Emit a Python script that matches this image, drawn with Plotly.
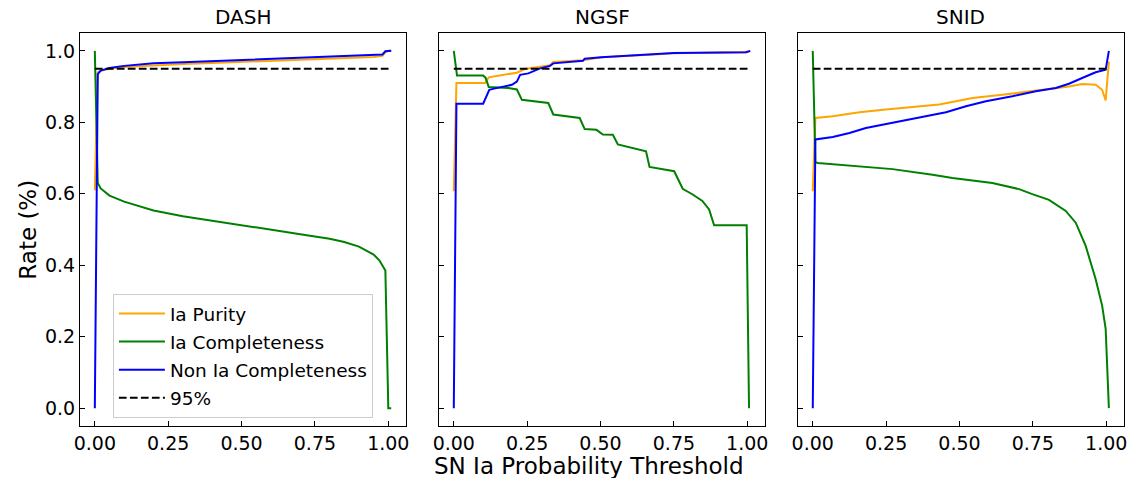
import plotly.graph_objects as go

# ---------------- data ----------------
panels = ["DASH", "NGSF", "SNID"]

# DASH
dash_pur_x = [0.0, 0.01, 0.02, 0.05, 0.1, 0.2, 0.3, 0.4, 0.5, 0.6, 0.7, 0.8, 0.9, 0.95, 0.98, 0.99, 1.0, 1.01]
dash_pur_y = [0.61, 0.94, 0.944, 0.95, 0.955, 0.96, 0.963, 0.966, 0.969, 0.972, 0.975, 0.978, 0.981, 0.983, 0.986, 0.996, 1.0, 1.0]
dash_com_x = [0.0, 0.01, 0.02, 0.05, 0.1, 0.15, 0.2, 0.3, 0.4, 0.5, 0.6, 0.7, 0.8, 0.85, 0.9, 0.95, 0.97, 0.98, 0.99, 1.0, 1.01]
dash_com_y = [1.0, 0.63, 0.615, 0.595, 0.578, 0.565, 0.553, 0.537, 0.525, 0.513, 0.499, 0.487, 0.474, 0.465, 0.452, 0.43, 0.413, 0.40, 0.385, 0.0, 0.0]
dash_non_x = [0.0, 0.01, 0.02, 0.05, 0.1, 0.2, 0.3, 0.4, 0.5, 0.6, 0.7, 0.8, 0.9, 0.95, 0.98, 0.99, 1.0, 1.01]
dash_non_y = [0.0, 0.935, 0.945, 0.952, 0.958, 0.965, 0.968, 0.971, 0.974, 0.977, 0.98, 0.983, 0.986, 0.988, 0.99, 0.999, 1.0, 1.0]

# NGSF
ngsf_pur_x = [0.0, 0.009, 0.107, 0.119, 0.215, 0.243, 0.328, 0.339, 0.44, 0.503, 0.667, 0.75, 1.0, 1.01]
ngsf_pur_y = [0.607, 0.91, 0.91, 0.926, 0.939, 0.949, 0.96, 0.969, 0.974, 0.982, 0.989, 0.993, 0.996, 1.0]
ngsf_com_x = [0.0, 0.011, 0.10, 0.108, 0.119, 0.186, 0.215, 0.232, 0.322, 0.339, 0.429, 0.446, 0.486, 0.508,
              0.542, 0.559, 0.655, 0.667, 0.751, 0.78, 0.814, 0.847, 0.87, 0.887, 0.998, 1.006]
ngsf_com_y = [1.0, 0.931, 0.931, 0.925, 0.899, 0.896, 0.892, 0.863, 0.854, 0.822, 0.812, 0.781, 0.779, 0.766,
              0.765, 0.738, 0.719, 0.675, 0.663, 0.614, 0.598, 0.58, 0.556, 0.512, 0.512, 0.0]
ngsf_non_x = [0.0, 0.009, 0.10, 0.121, 0.141, 0.198, 0.215, 0.226, 0.254, 0.294, 0.328, 0.339, 0.44, 0.446,
              0.503, 0.667, 0.75, 0.995, 1.01]
ngsf_non_y = [0.0, 0.852, 0.852, 0.891, 0.895, 0.905, 0.914, 0.933, 0.937, 0.951, 0.958, 0.965, 0.972, 0.978,
              0.982, 0.989, 0.994, 0.996, 1.0]

# SNID
snid_pur_x = [0.0, 0.009, 0.068, 0.159, 0.249, 0.329, 0.431, 0.488, 0.544, 0.646, 0.726, 0.816, 0.873, 0.918,
              0.964, 0.986, 0.998, 1.009]
snid_pur_y = [0.607, 0.812, 0.817, 0.828, 0.836, 0.842, 0.85, 0.859, 0.868, 0.877, 0.885, 0.893, 0.9, 0.907,
              0.905, 0.891, 0.861, 0.97]
snid_com_x = [0.0, 0.009, 0.017, 0.159, 0.272, 0.408, 0.476, 0.612, 0.703, 0.748, 0.805, 0.862, 0.896, 0.93,
              0.964, 0.986, 0.998, 1.009]
snid_com_y = [1.0, 0.688, 0.686, 0.677, 0.669, 0.653, 0.644, 0.63, 0.613, 0.599, 0.583, 0.552, 0.519, 0.454,
              0.361, 0.287, 0.222, 0.0]
snid_non_x = [0.0, 0.009, 0.068, 0.125, 0.181, 0.249, 0.317, 0.385, 0.454, 0.522, 0.59, 0.68, 0.76, 0.828,
              0.873, 0.918, 0.964, 0.998, 1.009]
snid_non_y = [0.0, 0.752, 0.759, 0.77, 0.784, 0.795, 0.807, 0.817, 0.828, 0.845, 0.859, 0.873, 0.887, 0.896,
              0.908, 0.924, 0.94, 0.947, 1.0]

ref_x = [0.0, 1.01]
ref_y = [0.95, 0.95]

series_names = ["Ia Purity", "Ia Completeness", "Non Ia Completeness", "95%"]
series_colors = ["#FFA500", "#008000", "#0000FF", "#000000"]

x_ticks = [0.0, 0.25, 0.5, 0.75, 1.0]
y_ticks = [0.0, 0.2, 0.4, 0.6, 0.8, 1.0]

data = {
    "DASH": [(dash_pur_x, dash_pur_y), (dash_com_x, dash_com_y), (dash_non_x, dash_non_y)],
    "NGSF": [(ngsf_pur_x, ngsf_pur_y), (ngsf_com_x, ngsf_com_y), (ngsf_non_x, ngsf_non_y)],
    "SNID": [(snid_pur_x, snid_pur_y), (snid_com_x, snid_com_y), (snid_non_x, snid_non_y)],
}

# ---------------- layout ----------------
W, H = 1137, 478
ML, MR, MT, MB = 80, 10, 33, 52
PW = W - ML - MR
PH = H - MT - MB
panel_px = [(80, 407), (440, 767), (800, 1127)]
domains = [[(a - ML) / PW, (b - ML) / PW] for a, b in panel_px]

FONT = "DejaVu Sans"
fig = go.Figure()

for i, name in enumerate(panels):
    xa = "x" if i == 0 else f"x{i+1}"
    ya = "y" if i == 0 else f"y{i+1}"
    for j, (xs, ys) in enumerate(data[name]):
        fig.add_trace(go.Scatter(
            x=xs, y=ys, mode="lines", name=series_names[j],
            line=dict(color=series_colors[j], width=2),
            xaxis=xa, yaxis=ya, showlegend=(i == 0),
            legendgroup=f"g{j}",
        ))
    fig.add_trace(go.Scatter(
        x=ref_x, y=ref_y, mode="lines", name=series_names[3],
        line=dict(color="black", width=2, dash="7.7px,3.3px"),
        xaxis=xa, yaxis=ya, showlegend=(i == 0), legendgroup="g3",
    ))

axis_common = dict(
    showline=True, linecolor="black", linewidth=1.2, mirror=True,
    ticks="inside", ticklen=5, tickwidth=1.2, tickcolor="black",
    showgrid=False, zeroline=False,
    tickfont=dict(family=FONT, size=19, color="black"),
)

for i in range(3):
    xkey = "xaxis" if i == 0 else f"xaxis{i+1}"
    ykey = "yaxis" if i == 0 else f"yaxis{i+1}"
    fig.layout[xkey] = dict(
        axis_common, domain=domains[i], range=[-0.0505, 1.0605],
        tickvals=x_ticks, ticktext=[f"{v:.2f}" for v in x_ticks],
        anchor="y" if i == 0 else f"y{i+1}",
    )
    fig.layout[ykey] = dict(
        axis_common, domain=[0, 1], range=[-0.05, 1.05],
        tickvals=y_ticks, ticktext=[f"{v:.1f}" for v in y_ticks],
        showticklabels=(i == 0),
        anchor="x" if i == 0 else f"x{i+1}",
    )

annotations = []
for i, name in enumerate(panels):
    cx = (panel_px[i][0] + panel_px[i][1]) / 2
    annotations.append(dict(
        text=name, xref="paper", yref="paper",
        x=(cx - ML) / PW, y=(H - MB - 17) / PH,
        xanchor="center", yanchor="middle", showarrow=False,
        font=dict(family=FONT, size=20, color="black"),
    ))
annotations.append(dict(
    text="SN Ia Probability Threshold", xref="paper", yref="paper",
    x=(590 - ML) / PW, y=(H - MB - 466) / PH,
    xanchor="center", yanchor="middle", showarrow=False, borderpad=0,
    font=dict(family=FONT, size=23, color="black"),
))
annotations.append(dict(
    text="Rate (%)", xref="paper", yref="paper", textangle=-90,
    x=(27 - ML) / PW, y=0.5,
    xanchor="center", yanchor="middle", showarrow=False,
    font=dict(family=FONT, size=23, color="black"),
))

fig.update_layout(
    width=W, height=H,
    margin=dict(l=ML, r=MR, t=MT, b=MB),
    paper_bgcolor="white", plot_bgcolor="white",
    font=dict(family=FONT, color="black"),
    annotations=annotations,
    legend=dict(
        x=(113 - ML) / PW, y=(H - MB - 418) / PH,
        xanchor="left", yanchor="bottom",
        bgcolor="rgba(255,255,255,0.8)", bordercolor="#cccccc", borderwidth=1,
        font=dict(family=FONT, size=18.5, color="black"),
        traceorder="grouped", tracegroupgap=1,
        itemwidth=46,
    ),
)

fig.write_html("out.html")
